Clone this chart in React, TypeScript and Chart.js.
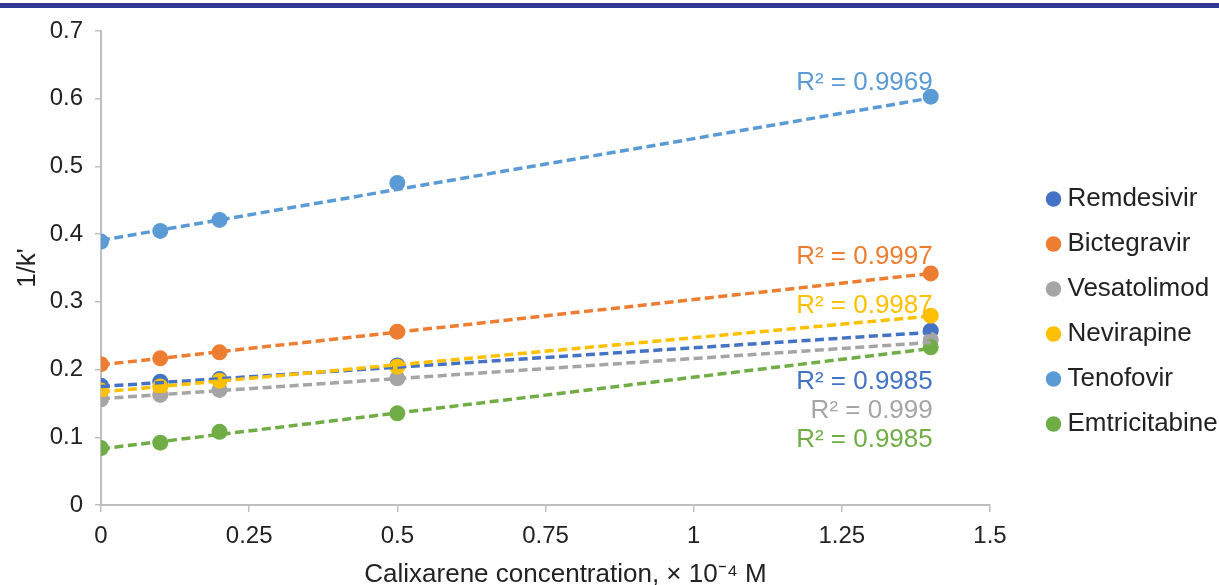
import React, { useEffect, useRef } from 'react';
import { Chart, registerables } from 'chart.js';

Chart.register(...registerables);

const concentrations = [0, 0.1, 0.2, 0.5, 1.4];
const seriesNames = ['Remdesivir', 'Bictegravir', 'Vesatolimod', 'Nevirapine', 'Tenofovir', 'Emtricitabine'];
const seriesColors = ['#4472C4', '#ED7D31', '#A5A5A5', '#FFC000', '#5B9BD5', '#70AD47'];

const remdesivir = [0.176, 0.182, 0.186, 0.206, 0.2575];
const bictegravir = [0.208, 0.2166, 0.2255, 0.256, 0.342];
const vesatolimod = [0.156, 0.1625, 0.17, 0.187, 0.2437];
const nevirapine = [0.169, 0.175, 0.1836, 0.2043, 0.2796];
const tenofovir = [0.389, 0.4047, 0.421, 0.4756, 0.603];
const emtricitabine = [0.084, 0.092, 0.108, 0.1354, 0.2329];

const trendStart = [0.175, 0.207, 0.157, 0.167, 0.391, 0.083];
const trendEnd = [0.255, 0.342, 0.24, 0.279, 0.601, 0.231];

const rSquaredLabels = ['R² = 0.9985', 'R² = 0.9997', 'R² = 0.999', 'R² = 0.9987', 'R² = 0.9969', 'R² = 0.9985'];
const rSquaredLabelY = [0.182, 0.366, 0.139, 0.294, 0.623, 0.096];

const xTickLabels = ['0', '0.25', '0.5', '0.75', '1', '1.25', '1.5'];
const yTickLabels = ['0', '0.1', '0.2', '0.3', '0.4', '0.5', '0.6', '0.7'];

const xTitle = 'Calixarene concentration, × 10⁻⁴ M';
const yTitle = "1/k'";

const FONT = '"Liberation Sans", Arial, Helvetica, sans-serif';
const TEXT = '#222222';
const AXIS = '#BFBFBF';

const seriesValues = [remdesivir, bictegravir, vesatolimod, nevirapine, tenofovir, emtricitabine];

const r2Plugin = {
  id: 'r2labels',
  beforeDatasetsDraw(chart: any) {
    const { ctx, scales } = chart;
    const x = scales.x;
    const y = scales.y;
    ctx.save();
    ctx.font = `26px ${FONT}`;
    ctx.textAlign = 'right';
    ctx.textBaseline = 'middle';
    rSquaredLabels.forEach((t, i) => {
      ctx.fillStyle = seriesColors[i];
      ctx.fillText(t, x.getPixelForValue(concentrations[concentrations.length - 1]) + 2, y.getPixelForValue(rSquaredLabelY[i]));
    });
    ctx.restore();
  },
};

const xTitlePlugin = {
  id: 'xTitle',
  afterDraw(chart: any) {
    const { ctx, chartArea } = chart;
    ctx.save();
    ctx.font = `26px ${FONT}`;
    ctx.fillStyle = TEXT;
    ctx.textAlign = 'center';
    ctx.textBaseline = 'middle';
    ctx.fillText(xTitle, (chartArea.left + chartArea.right) / 2 + 20, chartArea.bottom + 70);
    ctx.restore();
  },
};

export default function App() {
  const ref = useRef<HTMLCanvasElement | null>(null);

  useEffect(() => {
    if (!ref.current) return;
    const scatterSets = seriesNames.map((name, i) => ({
      type: 'scatter' as const,
      label: name,
      data: concentrations.map((c, j) => ({ x: c, y: seriesValues[i][j] })),
      backgroundColor: seriesColors[i],
      borderColor: seriesColors[i],
      borderWidth: 0,
      pointRadius: 8,
      pointHoverRadius: 8,
      pointStyle: 'circle',
      order: 100 - i,
    }));
    const trendSets = seriesNames.map((name, i) => ({
      type: 'line' as const,
      label: name + ' trend',
      data: [
        { x: concentrations[0], y: trendStart[i] },
        { x: concentrations[concentrations.length - 1], y: trendEnd[i] },
      ],
      borderColor: seriesColors[i],
      backgroundColor: seriesColors[i],
      borderWidth: 3.5,
      borderDash: [9, 4.5],
      pointRadius: 0,
      fill: false,
      tension: 0,
      order: 50 - i,
    }));

    const chart = new Chart(ref.current, {
      type: 'scatter',
      data: { datasets: [...scatterSets, ...trendSets] as any },
      options: {
        animation: false,
        responsive: false,
        layout: { padding: { top: 31, left: 0, right: 0, bottom: 0 } },
        plugins: {
          tooltip: { enabled: false },
          legend: {
            display: true,
            position: 'right',
            maxWidth: 185.5,
            labels: {
              usePointStyle: true,
              pointStyle: 'circle',
              boxWidth: 2,
              boxHeight: 11,
              padding: 19,
              color: TEXT,
              font: { size: 26, family: FONT },
              filter: (item: any) => item.datasetIndex < seriesNames.length,
              sort: (a: any, b: any) => a.datasetIndex - b.datasetIndex,
            },
          },
        },
        scales: {
          x: {
            type: 'linear',
            min: 0,
            max: 1.5,
            ticks: {
              stepSize: 0.25,
              color: TEXT,
              font: { size: 24, family: FONT },
              padding: 10,
              maxRotation: 0,
              callback: (_v: any, i: number) => xTickLabels[i],
            },
            grid: { display: true, drawOnChartArea: false, drawTicks: true, tickLength: 7, color: AXIS, lineWidth: 1.5 },
            border: { display: true, color: AXIS, width: 2 },
            title: { display: false },
            afterFit: (s: any) => { s.height = 87; },
          },
          y: {
            type: 'linear',
            min: 0,
            max: 0.7,
            ticks: {
              stepSize: 0.1,
              color: TEXT,
              font: { size: 24, family: FONT },
              padding: 12,
              callback: (_v: any, i: number) => yTickLabels[i],
            },
            grid: { display: true, drawOnChartArea: false, drawTicks: true, tickLength: 6, color: AXIS, lineWidth: 1.5 },
            border: { display: true, color: AXIS, width: 2 },
            title: { display: true, text: yTitle, color: TEXT, font: { size: 26, family: FONT }, padding: { top: 12, bottom: 0 } },
            afterFit: (s: any) => { s.width = 101; },
          },
          spacer: {
            type: 'linear',
            position: 'right',
            display: true,
            grid: { display: false, drawTicks: false },
            border: { display: false },
            ticks: { display: false },
            afterFit: (s: any) => { s.width = 43.5; },
          },
        },
      } as any,
      plugins: [r2Plugin, xTitlePlugin],
    });
    return () => chart.destroy();
  }, []);

  return (
    <div style={{ position: 'absolute', left: 0, top: 0, width: 1219, height: 585, overflow: 'hidden', background: '#fff' }}>
      <div style={{ position: 'absolute', left: 0, top: 3, width: 1219, height: 5, background: '#313896' }} />
      <canvas ref={ref} width={1219} height={592} style={{ width: 1219, height: 592, display: 'block' }} />
    </div>
  );
}
